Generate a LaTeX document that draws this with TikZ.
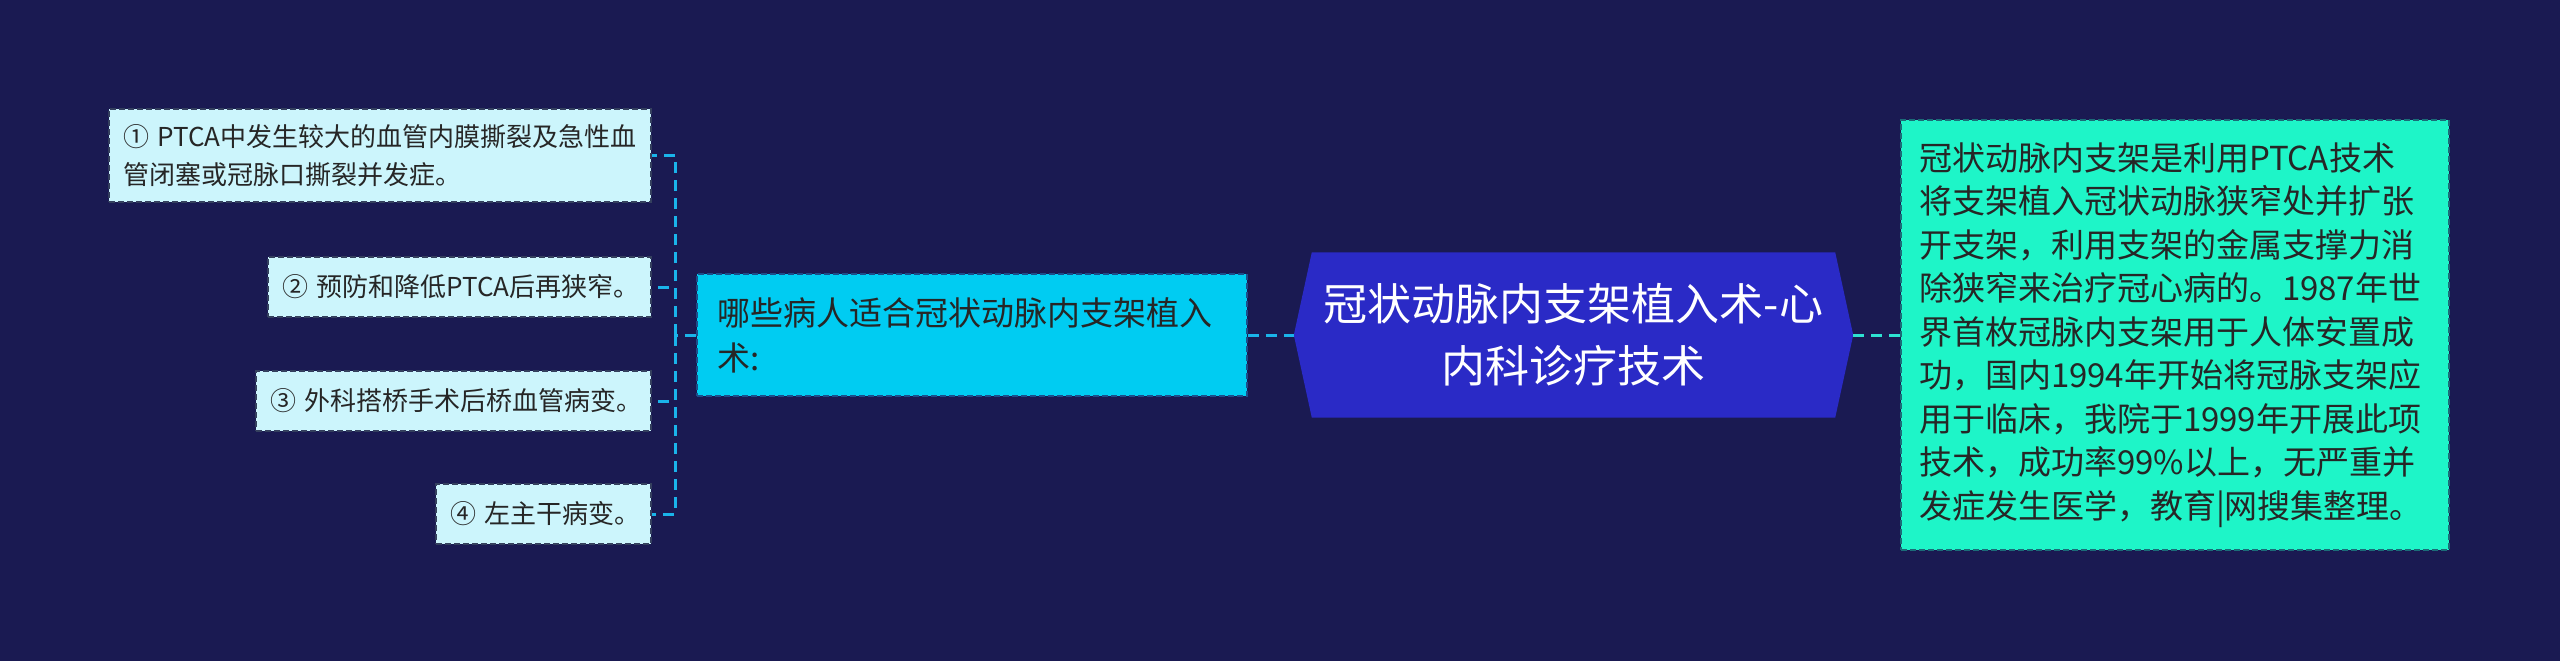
\documentclass[tikz,border=0pt]{standalone}
\usepackage{fontspec}
\setmainfont{Noto Sans CJK SC}
\usetikzlibrary{calc}
\definecolor{bgcol}{HTML}{1A1A52}
\definecolor{leaffill}{HTML}{CCF5FC}
\definecolor{leafborder}{HTML}{34405E}
\definecolor{hubfill}{HTML}{00CCF2}
\definecolor{hubborder}{HTML}{1C4E8A}
\definecolor{rightfill}{HTML}{1EF5C8}
\definecolor{rightborder}{HTML}{1B6C78}
\definecolor{rootfill}{HTML}{2A2AC6}
\definecolor{textdark}{HTML}{262626}
\definecolor{lconncol}{HTML}{1AB4EA}
\definecolor{rconncol}{HTML}{2EE2D2}
\pgfdeclarelayer{bglayer}
\pgfsetlayers{bglayer,main}
\hyphenpenalty=10000
\exhyphenpenalty=10000
\begin{document}
\begin{tikzpicture}[x=1pt,y=-1pt,
  boxbase/.style={rectangle, inner ysep=0pt, align=left, text=textdark,
    line width=1.5pt, dash pattern=on 6pt off 3pt},
  leaf/.style={boxbase, fill=leaffill, draw=leafborder, inner xsep=14pt,
    font=\fontsize{26}{38}\selectfont, minimum height=60pt},
  hubbox/.style={boxbase, fill=hubfill, draw=hubborder, inner xsep=20pt,
    text width=510pt, minimum height=122pt, font=\fontsize{33}{45}\selectfont},
  rightbox/.style={boxbase, fill=rightfill, draw=rightborder, inner xsep=18pt,
    text width=512pt, minimum height=430pt, font=\fontsize{33}{43.5}\selectfont},
  rootbox/.style={rectangle, inner ysep=0pt, inner xsep=19.5pt, text width=520pt,
    minimum height=165pt, align=center, text=white, font=\fontsize{44}{62}\selectfont},
  lconn/.style={draw=lconncol, line width=3pt, dash pattern=on 11pt off 7pt},
  rconn/.style={draw=rconncol, line width=3pt, dash pattern=on 11pt off 7pt}
]
\useasboundingbox (0,0) rectangle (2560,661);

\node[leaf, text width=514pt, minimum height=93pt] (n1) at (380,155.5)
  {①~PTCA中发生较大的血管内膜撕裂及急性血\\管闭塞或冠脉口撕裂并发症。};
\node[leaf, text width=355pt] (n2) at (459.5,287) {②~预防和降低PTCA后再狭窄。};
\node[leaf, text width=367pt] (n3) at (453.5,401) {③~外科搭桥手术后桥血管病变。};
\node[leaf, text width=187pt] (n4) at (543.5,514) {④~左主干病变。};

\node[hubbox] (hub) at (972,335) {哪些病人适合冠状动脉内支架植入\\术:};

\node[rootbox] (root) at (1573.5,335) {冠状动脉内支架植入术-心\\内科诊疗技术};

\node[rightbox] (right) at (2175,335)
  {冠状动脉内支架是利用PTCA技术\\
   将支架植入冠状动脉狭窄处并扩张\\
   开支架，利用支架的金属支撑力消\\
   除狭窄来治疗冠心病的。1987年世\\
   界首枚冠脉内支架用于人体安置成\\
   功，国内1994年开始将冠脉支架应\\
   用于临床，我院于1999年开展此项\\
   技术，成功率99\%以上，无严重并\\
   发症发生医学，教育|网搜集整理。};

\coordinate (j) at (675,335);

\begin{pgfonlayer}{bglayer}
\fill[bgcol] (0,0) rectangle (2560,661);
\fill[rootfill] (root.west) -- ($(root.north west)+(18,0)$) -- ($(root.north east)+(-18,0)$)
  -- (root.east) -- ($(root.south east)+(-18,0)$) -- ($(root.south west)+(18,0)$) -- cycle;
\draw[lconn] (hub.west) -- (j);
\foreach \n in {n1,n2,n3,n4} \draw[lconn] (j) |- (\n.east);
\draw[lconn] (hub.east) -- (root.west);
\draw[rconn] (root.east) -- (right.west);
\end{pgfonlayer}
\end{tikzpicture}
\end{document}
